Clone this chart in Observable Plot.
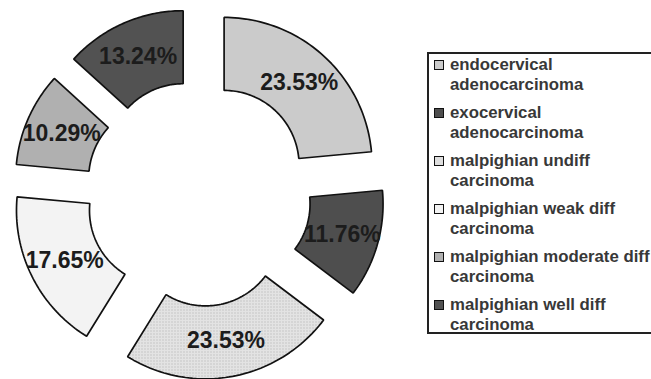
<!DOCTYPE html>
<html>
<head>
<meta charset="utf-8">
<script src="https://cdn.jsdelivr.net/npm/d3@7"></script>
<script src="https://cdn.jsdelivr.net/npm/@observablehq/plot@0.6"></script>
<style>
  html, body { margin: 0; padding: 0; background: #fff; overflow: hidden; }
  #wrap { position: relative; width: 651px; height: 379px; overflow: hidden; }
  #legend { position: absolute; left: 427px; top: 52px; width: 240px; height: 282px;
            border: 2px solid #222; box-sizing: border-box; background: #fff; }
  .entry { position: absolute; left: 0; font-family: "Liberation Sans", Arial, sans-serif;
           font-weight: bold; font-size: 16.8px; line-height: 20px; color: #383838; white-space: nowrap; }
  .sw { position: absolute; left: 5px; top: 5px; width: 10px; height: 10px; border: 1.6px solid #111; box-sizing: border-box; }
  .tx { position: absolute; left: 21px; top: 0; }
</style>
</head>
<body>
<div id="wrap"></div>
<script>
// ---- data ----
const categories = [
  "endocervical adenocarcinoma",
  "exocervical adenocarcinoma",
  "malpighian undiff carcinoma",
  "malpighian weak diff carcinoma",
  "malpighian moderate diff carcinoma",
  "malpighian well diff carcinoma"
];
const legendLine1 = ["endocervical", "exocervical", "malpighian undiff", "malpighian weak diff", "malpighian moderate diff", "malpighian well diff"];
const legendLine2 = ["adenocarcinoma", "adenocarcinoma", "carcinoma", "carcinoma", "carcinoma", "carcinoma"];
const values = [23.53, 11.76, 23.53, 17.65, 10.29, 13.24];
const colors = ["#cbcbcb", "#4e4e4e", "url(#dots)", "#f3f3f3", "#b0b0b0", "#525252"];
const swatchColors = ["#cbcbcb", "#4e4e4e", "#dedede", "#f3f3f3", "#b0b0b0", "#525252"];

// ---- layout ----
const W = 651, H = 379;
const cx = 198, cy = 193, rOut = 148, rIn = 75, explode = 38;
const rMid = (rOut + rIn) / 2;

const arcs = d3.pie().sort(null).value(d => d)(values);
const pts = [];
const labels = [];
arcs.forEach((a, i) => {
  const mid = (a.startAngle + a.endAngle) / 2;
  const ox = cx + explode * Math.sin(mid), oy = cy - explode * Math.cos(mid);
  const n = 60;
  for (let k = 0; k <= n; k++) {
    const t = a.startAngle + (a.endAngle - a.startAngle) * k / n;
    pts.push({i, x: ox + rOut * Math.sin(t), y: oy - rOut * Math.cos(t), fill: colors[i]});
  }
  for (let k = n; k >= 0; k--) {
    const t = a.startAngle + (a.endAngle - a.startAngle) * k / n;
    pts.push({i, x: ox + rIn * Math.sin(t), y: oy - rIn * Math.cos(t), fill: colors[i]});
  }
  labels.push({x: ox + rMid * Math.sin(mid), y: oy - rMid * Math.cos(mid), text: values[i].toFixed(2) + "%"});
});

const svg = Plot.plot({
  width: W, height: H,
  margin: 0,
  x: {domain: [0, W], range: [0, W], axis: null},
  y: {domain: [0, H], range: [0, H], axis: null},
  color: {type: "identity"},
  style: {fontFamily: "'Liberation Sans', Arial, sans-serif", background: "transparent"},
  marks: [
    Plot.line(pts, {x: "x", y: "y", z: "i", fill: "fill", stroke: "#111", strokeWidth: 1.7,
                    curve: "linear-closed", strokeLinejoin: "miter"}),
    Plot.text(labels, {x: "x", y: "y", text: "text", fontSize: 23, fontWeight: "bold", fill: "#1c1c1c"})
  ]
});

// dotted pattern for the "malpighian undiff" slice
const defs = d3.select(svg).insert("defs", ":first-child");
const pat = defs.append("pattern").attr("id", "dots").attr("width", 3).attr("height", 3)
  .attr("patternUnits", "userSpaceOnUse");
pat.append("rect").attr("width", 3).attr("height", 3).attr("fill", "#e3e3e3");
pat.append("rect").attr("width", 1).attr("height", 1).attr("fill", "#a9a9a9");

const wrap = document.getElementById("wrap");
wrap.appendChild(svg);
svg.style.position = "absolute";
svg.style.left = "0px";
svg.style.top = "0px";

// legend
const legend = document.createElement("div");
legend.id = "legend";
categories.forEach((c, i) => {
  const e = document.createElement("div");
  e.className = "entry";
  e.style.top = (1 + 48 * i) + "px";
  e.title = c;
  const sw = document.createElement("div");
  sw.className = "sw";
  sw.style.background = swatchColors[i];
  const tx = document.createElement("div");
  tx.className = "tx";
  tx.innerHTML = legendLine1[i] + "<br>" + legendLine2[i];
  e.appendChild(sw);
  e.appendChild(tx);
  legend.appendChild(e);
});
wrap.appendChild(legend);
</script>
</body>
</html>
